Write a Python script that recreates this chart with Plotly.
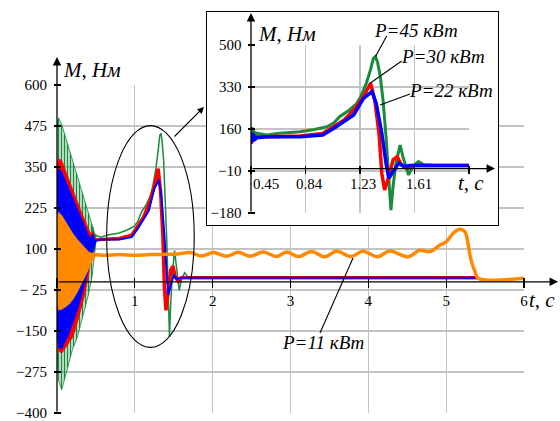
import plotly.graph_objects as go

# ---------------- data ----------------
# start-up oscillation envelopes (main chart only)
t_env = [0.0, 0.02, 0.06, 0.1, 0.15, 0.2, 0.25, 0.3, 0.35, 0.4, 0.45, 0.5]
green_env_hi = [470, 500, 480, 448, 408, 368, 328, 288, 248, 208, 168, 135]
green_env_lo = [-200, -300, -330, -300, -250, -205, -177, -134, -91, -43, 15, 120]
red_env_hi = [360, 375, 370, 344, 313, 283, 252, 221, 191, 160, 135, 130]
red_env_lo = [-150, -210, -218, -205, -188, -170, -134, -90, -45, 13, 90, 128]
blue_env_hi = [330, 345, 336, 313, 285, 257, 229, 201, 173, 145, 128, 126]
blue_env_lo = [-140, -200, -205, -185, -160, -131, -95, -56, -17, 30, 76, 122]
orange_env_hi = [200, 212, 203, 186, 166, 148, 132, 118, 104, 92, 86, 84]
orange_env_lo = [-60, -86, -84, -78, -69, -55, -36, -16, 10, 35, 62, 80]

# P = 45 kW (green)
green_t = [0.45, 0.453, 0.457, 0.461, 0.466, 0.472, 0.48, 0.49, 0.5, 0.56, 0.65, 0.8, 0.9, 0.99,
           1.04, 1.08, 1.15, 1.2, 1.23, 1.27, 1.30, 1.32, 1.335, 1.35, 1.37, 1.39, 1.41, 1.43,
           1.445, 1.46, 1.48, 1.51, 1.53, 1.57, 1.60, 1.64, 1.68, 1.75, 2.0, 5.4]
green_M = [165, 110, 168, 118, 158, 128, 148, 135, 142, 136, 143, 149, 158, 169,
           185, 210, 237, 262, 291, 345, 400, 446, 453, 430, 370, 270, 130, -40,
           -168, -73, 20, 95, 48, -26, 8, 28, 15, 12, 12, 12]
# P = 30 kW (red)
red_t = [0.45, 0.453, 0.457, 0.462, 0.468, 0.475, 0.49, 0.56, 0.8, 0.96, 1.04, 1.11, 1.18, 1.25,
         1.30, 1.33, 1.36, 1.38, 1.40, 1.43, 1.46, 1.49, 1.52, 1.56, 1.6, 2.0, 5.4]
red_M = [150, 100, 140, 110, 135, 120, 128, 129, 132, 142, 169, 196, 237, 291,
         345, 277, 143, -19, -87, -33, 35, 48, 14, 1, 12, 12, 12]
# P = 22 kW (blue)
blue_t = [0.45, 0.453, 0.457, 0.462, 0.468, 0.475, 0.49, 0.56, 0.8, 0.96, 1.04, 1.11, 1.18, 1.25,
          1.31, 1.34, 1.38, 1.41, 1.43, 1.46, 1.50, 1.54, 1.58, 2.0, 5.4]
blue_M = [140, 105, 145, 108, 140, 115, 125, 129, 129, 136, 163, 190, 217, 284,
          311, 264, 143, 21, -40, -13, 21, 8, 12, 12, 12]
# P = 11 kW (orange)
orange_t = [0.45, 0.6, 0.8, 1.0, 1.2, 1.4, 1.55, 1.71, 1.86, 2.01, 2.18, 2.33, 2.48, 2.65, 2.82,
            2.95, 3.10, 3.27, 3.44, 3.59, 3.78, 3.93, 4.12, 4.27, 4.51, 4.66, 4.79, 4.92, 5.0,
            5.09, 5.17, 5.24, 5.28, 5.32, 5.37, 5.41, 6.0]
orange_M = [84, 81, 83, 81, 83, 84, 85, 89, 79, 89, 78, 90, 78, 91, 77,
            91, 77, 92, 76, 93, 77, 93, 76, 94, 76, 96, 92, 112, 122,
            148, 160, 153, 117, 66, 31, 11, 11]

main_x_ticks = [0, 1, 2, 3, 4, 5, 6]
main_x_text = ["", "1", "2", "3", "4", "5", "6"]
main_y_ticks = [600, 475, 350, 225, 100, -25, -150, -275, -400]
main_y_text = ["600", "475", "350", "225", "100", "\u2212 25", "\u2212150", "\u2212275", "\u2212400"]
ins_x_ticks = [0.45, 0.8375, 1.225, 1.6125, 2.0]
ins_x_text = ["0.45", "0.84", "1.23", "1.61"]
ins_y_ticks = [500, 330, 160, -10, -180]
ins_y_text = ["500", "330", "160", "\u221210", "\u2212180"]

GREEN = "#178c3c"
RED = "#ff0000"
BLUE = "#0000ff"
ORANGE = "#ff8a00"
GRID = "#c3c3c3"
SERIF = "Liberation Serif"

# ---------------- geometry helpers (pixels -> paper) ----------------
W, H = 560, 421
L, R, T, B = 57, 36, 10, 6
PW, PH = W - L - R, H - T - B


def px(x):
    return (x - L) / PW


def py(y):
    return (H - B - y) / PH


fig = go.Figure()


def band(t, hi, lo, color, pattern=False):
    kw = {}
    if pattern:
        kw["fillpattern"] = dict(shape="|", size=3, solidity=0.55, fgcolor=color)
        kw["fillcolor"] = "rgba(0,0,0,0)"
    else:
        kw["fillcolor"] = color
    fig.add_trace(go.Scatter(x=t + t[::-1], y=hi + lo[::-1], fill="toself",
                             mode="lines", line=dict(color=color, width=0.8),
                             hoverinfo="skip", xaxis="x", yaxis="y", **kw))


def line(t, m, color, width, ax="x", ay="y", shape="linear"):
    fig.add_trace(go.Scatter(x=t, y=m, mode="lines",
                             line=dict(color=color, width=width, shape=shape),
                             hoverinfo="skip", xaxis=ax, yaxis=ay))


band(t_env, green_env_hi, green_env_lo, GREEN, pattern=True)
line(green_t, green_M, GREEN, 1.5)
band(t_env, red_env_hi, red_env_lo, RED)
line(red_t, red_M, RED, 3.5)
band(t_env, blue_env_hi, blue_env_lo, BLUE)
line(blue_t, blue_M, BLUE, 2)
band(t_env, orange_env_hi, orange_env_lo, ORANGE)
line(orange_t, orange_M, ORANGE, 3.5, shape="spline")

# inset frame subplot (empty)
fig.add_trace(go.Scatter(x=[], y=[], xaxis="x2", yaxis="y2", hoverinfo="skip"))
# inset curves
line(green_t, green_M, GREEN, 3, "x3", "y3")
line(red_t, red_M, RED, 3.5, "x3", "y3")
line(blue_t, blue_M, BLUE, 3.5, "x3", "y3")

TF = dict(family=SERIF, size=15, color="black")

y0_main = 85 + 600 / 1000 * 328  # pixel row of M = 0
y0_ins = 45 + 500 / 680 * 168

common = dict(automargin=False, fixedrange=True, zeroline=False, showline=False,
              ticklabeloverflow="allow")

fig.update_layout(
    template="none",
    width=W, height=H, margin=dict(l=L, r=R, t=T, b=B, pad=0, autoexpand=False),
    paper_bgcolor="white", plot_bgcolor="white", showlegend=False,
    font=dict(family=SERIF, size=15, color="black"),
    xaxis=dict(domain=[0, 1], range=[0, 6], anchor="free", position=py(y0_main - 5),
               tickvals=main_x_ticks, ticktext=main_x_text, ticks="outside", ticklen=10,
               tickwidth=1.3, tickcolor="black", showgrid=True, gridcolor=GRID, gridwidth=1.3,
               tickfont=TF, **common),
    yaxis=dict(domain=[py(413 + 0.328), py(85)], range=[-401, 600], anchor="free",
               position=px(61),
               tickvals=main_y_ticks, ticktext=main_y_text, ticks="outside", ticklen=7,
               tickwidth=1.3, tickcolor="black", showgrid=True, gridcolor=GRID, gridwidth=1.3,
               tickfont=TF, ticklabelstandoff=4, **common),
    xaxis2=dict(domain=[px(207), px(498)], range=[0, 1], anchor="y2", showline=True, mirror=True,
                linecolor="black", linewidth=1.2, showgrid=False, zeroline=False,
                showticklabels=False, ticks="", fixedrange=True, automargin=False),
    yaxis2=dict(domain=[py(225), py(12)], range=[0, 1], anchor="x2", showline=True, mirror=True,
                linecolor="black", linewidth=1.2, showgrid=False, zeroline=False,
                showticklabels=False, ticks="", fixedrange=True, automargin=False),
    xaxis3=dict(domain=[px(251), px(469)], range=[0.45, 2.0], anchor="free",
                position=py(y0_ins - 4), tickvals=ins_x_ticks, showticklabels=False,
                ticks="outside", ticklen=8, tickwidth=1.3, tickcolor="black",
                showgrid=True, gridcolor=GRID, gridwidth=1.3, **common),
    yaxis3=dict(domain=[py(213), py(45)], range=[-180, 500], anchor="free", position=px(254.5),
                tickvals=ins_y_ticks, ticktext=ins_y_text, ticks="outside", ticklen=7,
                tickwidth=1.3, tickcolor="black", showgrid=True, gridcolor=GRID, gridwidth=1.3,
                tickfont=TF, ticklabelstandoff=3, **common),
)

ann = []


def arrow(hx, hy, tx, ty, head=2, size=1.3, width=1.3):
    ann.append(dict(xref="paper", yref="paper", x=px(hx), y=py(hy), ax=tx - hx, ay=ty - hy,
                    text="", showarrow=True, arrowhead=head, arrowsize=size, arrowwidth=width,
                    arrowcolor="black", standoff=0, startstandoff=0))


def text(x, y, s, size=19, anchor="left"):
    ann.append(dict(xref="paper", yref="paper", x=px(x), y=py(y), text=s, showarrow=False,
                    xanchor=anchor, yanchor="middle", font=dict(family=SERIF, size=size,
                                                                 color="black")))


# axes with arrows
arrow(57, 57, 57, 413)
arrow(558, y0_main, 57, y0_main)
arrow(251, 13, 251, 213)
arrow(495, y0_ins, 251, y0_ins)
# ellipse -> inset arrow
arrow(204, 107, 173, 138, size=1.2, width=1.1)

# axis titles
text(61, 70, "<i>M</i>, <i>Нм</i>", 21)
text(527, 300, "<i>t</i>, <i>c</i>", 21)
text(256, 34, "<i>M</i>, <i>Нм</i>", 21)
text(456, 183, "<i>t</i>, <i>c</i>", 21)
# series labels
text(372, 30, "<i>P=45 кВт</i>", 19)
text(399, 57, "<i>P=30 кВт</i>", 19)
text(407, 90, "<i>P=22 кВт</i>", 19)
text(323, 342, "<i>P=11 кВт</i>", 19, "center")

# inset x tick labels
ins_shift = [15, 4, 2.5, 4.5]
for v, s, sh in zip(ins_x_ticks, ins_x_text, ins_shift):
    ann.append(dict(xref="x3", yref="y3", x=v, y=0, text=s, showarrow=False, xanchor="center",
                    yanchor="middle", xshift=sh, yshift=-15, font=TF))

shapes = []
for (x0, y0, x1, y1) in [(386.7, 36, 375.5, 56.5), (401.7, 61, 370, 83.3),
                         (410, 94, 380, 105), (320, 333, 353, 258)]:
    shapes.append(dict(type="line", xref="paper", yref="paper", x0=px(x0), y0=py(y0),
                       x1=px(x1), y1=py(y1), line=dict(color="black", width=1.1), layer="above"))
shapes.append(dict(type="circle", xref="x", yref="y", x0=0.638, x1=1.763, y0=-200, y1=476,
                   line=dict(color="black", width=1.1), layer="above"))

fig.update_layout(annotations=ann, shapes=shapes)
fig.write_html("out.html", config=dict(displayModeBar=False, staticPlot=True))
